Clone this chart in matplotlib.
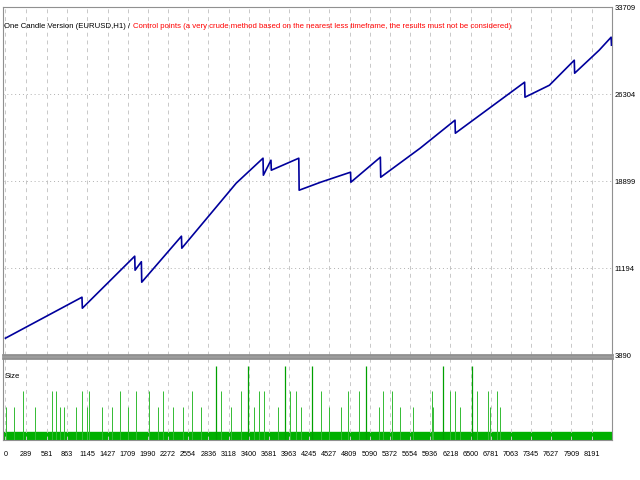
import matplotlib
matplotlib.use('Agg')
import matplotlib.pyplot as plt

plt.rcParams['font.family'] = ['Liberation Sans', 'DejaVu Sans']

# balance curve (trade number, balance)
trades = [0, 1070, 1075, 1807, 1812, 1900, 1905, 2460, 2465, 3225, 3600, 3605, 3711, 3716,
          4100, 4105, 4406, 4823, 4828, 5240, 5245, 5796, 6283, 6288, 7256, 7261, 7603,
          7950, 7955, 8298, 8465, 8470]
balance = [5347, 8860, 7917, 12373, 11174, 11900, 10146, 14087, 13058, 18628, 20770, 19313,
           20599, 19742, 20770, 18028, 18714, 19571, 18714, 20856, 19142, 21627, 24026, 22912,
           27282, 25997, 27025, 29167, 28053, 30024, 31138, 30453]

x_ticks = [0, 289, 581, 863, 1145, 1427, 1709, 1990, 2272, 2554, 2836, 3118, 3400, 3681,
           3963, 4245, 4527, 4809, 5090, 5372, 5654, 5936, 6218, 6500, 6781, 7063, 7345,
           7627, 7909, 8191]
y_labels = ['3890', '11194', '18899', '26304', '33709']
y_min, y_max = 3890, 33709

# lot size spikes
tall = [2947, 3392, 3906, 4281, 5046, 6116, 6519]
medium = [250, 653, 709, 1070, 1168, 1598, 1821, 2002, 2196, 2613, 3016, 3294, 3545, 3614,
          3975, 4059, 4406, 4781, 4935, 5282, 5407, 5963, 6213, 6283, 6589, 6741, 6867]
small = [5, 116, 412, 769, 815, 987, 1140, 1348, 1487, 1709, 2136, 2345, 2484, 2738, 3155,
         3480, 3804, 4128, 4521, 4684, 5217, 5518, 5703, 5982, 6353, 6770, 6909]
x_max = 8475

fig = plt.figure(figsize=(6.4, 4.8), dpi=100)
ax = fig.add_axes([0.004, 0.26, 0.952, 0.725])
ax2 = fig.add_axes([0.004, 0.083, 0.952, 0.171])

ax.plot(trades, balance, color='#00009c', linewidth=1.2)
ax.set_xlim(-40, x_max)
ax.set_ylim(y_min, y_max)
yt = [y_min + i * (y_max - y_min) / 4 for i in range(5)]
ax.set_yticks(yt)
ax.set_yticklabels(y_labels, fontsize=5.5)
ax.yaxis.tick_right()
ax.set_xticks(x_ticks)
ax.set_xticklabels([])
ax.tick_params(length=0, pad=2)
ax.grid(True, axis='x', color='#c8c8c8', linestyle=(0, (4, 4)), linewidth=0.7)
ax.grid(True, axis='y', color='#b0b0b0', linestyle=(0, (1, 3)), linewidth=0.7)
for s in ax.spines.values():
    s.set_color('#909090')
ax.spines['bottom'].set_linewidth(2)
t1 = ax.text(0.003, 0.955, 'One Candle Version (EURUSD,H1) / ', transform=ax.transAxes,
             fontsize=5.6, va='top')
ax.annotate('Control points (a very crude method based on the nearest less timeframe, the results must not be considered)',
            xycoords=t1, xy=(1, 0), va='bottom', fontsize=5.6, color='red')

ax2.axhspan(0, 1, color='#00b000')
ax2.vlines(small, 0, 4, color='#33bb33', linewidth=0.7)
ax2.vlines(medium, 0, 6, color='#33bb33', linewidth=0.7)
ax2.vlines(tall, 0, 9, color='#00a000', linewidth=0.9)
ax2.set_xlim(-40, x_max)
ax2.set_ylim(0, 10)
ax2.set_yticks([])
ax2.set_xticks(x_ticks)
ax2.set_xticklabels([str(v) for v in x_ticks], fontsize=5.2)
ax2.tick_params(length=0, pad=8)
ax2.grid(True, axis='x', color='#c8c8c8', linestyle=(0, (4, 4)), linewidth=0.7)
for s in ax2.spines.values():
    s.set_color('#909090')
ax2.spines['top'].set_linewidth(2)
ax2.text(0.004, 0.82, 'Size', transform=ax2.transAxes, fontsize=5.6, va='top')

fig.savefig('out.png', dpi=100)
